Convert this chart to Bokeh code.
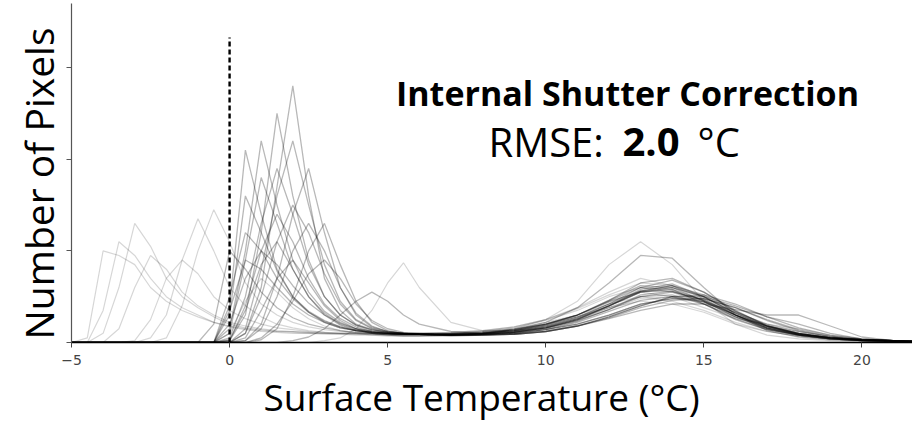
import math
from bokeh.plotting import figure
from bokeh.models import Range1d, FixedTicker, Label, Title
from bokeh.embed import file_html
from bokeh.resources import INLINE

# ---------------- data ----------------
X_GRID = [-5, -4.5, -4, -3.5, -3, -2.5, -2, -1.5, -1, -0.5, 0, 0.5, 1, 1.5, 2, 2.5, 3, 3.5, 4, 4.5,
          5, 5.5, 6, 7, 8, 9, 10, 11, 12, 13, 14, 15, 16, 17, 18, 19, 20, 21, 22]

# faint curves of the coldest images (pixel counts, arbitrary units, on X_GRID)
COLD_CURVES = [
    [0, 0, 0.35, 1.1, 0.95, 0.7, 0.5, 0.38, 0.3, 0.22, 0.18, 0.15, 0.13, 0.12, 0.12, 0.11, 0.1, 0.1, 0.1, 0.09,
     0.09, 0.09, 0.09, 0.1, 0.12, 0.15, 0.22, 0.3, 0.42, 0.5, 0.45, 0.35, 0.22, 0.12, 0.07, 0.04, 0.02, 0.01, 0.01],
    [0, 0, 0.1, 0.6, 1.3, 1.05, 0.7, 0.5, 0.38, 0.28, 0.2, 0.16, 0.14, 0.12, 0.11, 0.1, 0.1, 0.09, 0.09, 0.09,
     0.08, 0.08, 0.08, 0.09, 0.1, 0.13, 0.18, 0.28, 0.4, 0.55, 0.6, 0.5, 0.32, 0.18, 0.1, 0.05, 0.03, 0.02, 0.01],
    [0, 0.05, 1.0, 0.95, 0.85, 0.6, 0.45, 0.35, 0.28, 0.22, 0.17, 0.14, 0.12, 0.11, 0.1, 0.1, 0.09, 0.09, 0.08, 0.08,
     0.08, 0.08, 0.08, 0.09, 0.11, 0.14, 0.2, 0.28, 0.38, 0.45, 0.42, 0.33, 0.2, 0.12, 0.07, 0.04, 0.02, 0.01, 0.01],
    [0, 0, 0, 0.15, 0.6, 0.95, 0.8, 0.55, 0.4, 0.3, 0.22, 0.18, 0.15, 0.13, 0.12, 0.11, 0.1, 0.1, 0.1, 0.1,
     0.1, 0.1, 0.1, 0.11, 0.13, 0.17, 0.25, 0.38, 0.55, 0.7, 0.62, 0.45, 0.28, 0.16, 0.09, 0.05, 0.03, 0.02, 0.01],
    [0, 0, 0, 0, 0, 0.05, 0.3, 0.9, 1.35, 1.0, 0.6, 0.4, 0.28, 0.2, 0.16, 0.13, 0.11, 0.1, 0.09, 0.09,
     0.09, 0.09, 0.09, 0.1, 0.12, 0.16, 0.24, 0.35, 0.5, 0.6, 0.55, 0.42, 0.28, 0.18, 0.12, 0.07, 0.03, 0.02, 0.01],
    [0, 0, 0, 0, 0, 0, 0.05, 0.4, 1.0, 1.45, 1.1, 0.65, 0.42, 0.3, 0.22, 0.17, 0.14, 0.12, 0.11, 0.1,
     0.1, 0.1, 0.1, 0.11, 0.13, 0.17, 0.25, 0.37, 0.52, 0.65, 0.62, 0.48, 0.3, 0.17, 0.1, 0.05, 0.03, 0.02, 0.01],
    [0, 0, 0, 0, 0.02, 0.25, 0.7, 0.9, 0.75, 0.5, 0.35, 0.26, 0.2, 0.16, 0.14, 0.12, 0.11, 0.1, 0.1, 0.1,
     0.09, 0.09, 0.09, 0.1, 0.12, 0.15, 0.2, 0.3, 0.45, 0.55, 0.5, 0.38, 0.26, 0.2, 0.15, 0.08, 0.04, 0.02, 0.01],
    [0, 0, 0, 0, 0, 0, 0, 0, 0, 0, 0, 0, 0, 0, 0, 0, 0.02, 0.05, 0.15, 0.35,
     0.65, 0.87, 0.6, 0.22, 0.13, 0.13, 0.16, 0.24, 0.36, 0.48, 0.5, 0.42, 0.28, 0.15, 0.08, 0.04, 0.02, 0.01, 0.01],
    [0, 0, 0, 0, 0, 0, 0, 0, 0, 0, 0.1, 0.45, 0.7, 0.55, 0.38, 0.26, 0.18, 0.13, 0.1, 0.08,
     0.07, 0.07, 0.07, 0.08, 0.1, 0.15, 0.25, 0.45, 0.85, 1.1, 0.85, 0.45, 0.2, 0.08, 0.04, 0.02, 0.01, 0.01, 0],
]

# denser curves of the images near freezing
MAIN_CURVES = [
    [0, 0, 0, 0, 0, 0, 0, 0, 0, 0, 0.4, 2.1, 1.4, 0.8, 0.5, 0.33, 0.22, 0.16, 0.13, 0.11,
     0.1, 0.09, 0.09, 0.09, 0.1, 0.13, 0.2, 0.3, 0.45, 0.6, 0.58, 0.42, 0.25, 0.14, 0.08, 0.04, 0.02, 0.01, 0.01],
    [0, 0, 0, 0, 0, 0, 0, 0, 0, 0, 0.1, 0.9, 1.8, 1.3, 0.8, 0.5, 0.32, 0.2, 0.14, 0.11,
     0.1, 0.09, 0.09, 0.08, 0.09, 0.11, 0.16, 0.25, 0.4, 0.55, 0.6, 0.5, 0.32, 0.17, 0.09, 0.05, 0.03, 0.02, 0.01],
    [0, 0, 0, 0, 0, 0, 0, 0, 0, 0, 0.02, 0.3, 1.2, 2.5, 1.6, 0.9, 0.5, 0.3, 0.19, 0.14,
     0.11, 0.1, 0.09, 0.08, 0.09, 0.11, 0.15, 0.23, 0.36, 0.52, 0.56, 0.46, 0.3, 0.16, 0.09, 0.05, 0.03, 0.02, 0.01],
    [0, 0, 0, 0, 0, 0, 0, 0, 0, 0, 0, 0.1, 0.6, 1.7, 2.8, 1.6, 0.7, 0.35, 0.2, 0.14,
     0.11, 0.1, 0.09, 0.08, 0.09, 0.11, 0.16, 0.25, 0.38, 0.5, 0.52, 0.42, 0.26, 0.14, 0.08, 0.04, 0.02, 0.01, 0.01],
    [0, 0, 0, 0, 0, 0, 0, 0, 0, 0, 0, 0.15, 0.8, 1.6, 2.2, 1.5, 0.85, 0.45, 0.25, 0.16,
     0.12, 0.1, 0.09, 0.08, 0.09, 0.1, 0.14, 0.22, 0.34, 0.46, 0.5, 0.44, 0.3, 0.18, 0.1, 0.05, 0.03, 0.02, 0.01],
    [0, 0, 0, 0, 0, 0, 0, 0, 0, 0, 0.5, 1.2, 1.0, 0.7, 0.48, 0.33, 0.23, 0.17, 0.13, 0.11,
     0.1, 0.09, 0.09, 0.09, 0.11, 0.14, 0.2, 0.3, 0.46, 0.62, 0.6, 0.45, 0.28, 0.15, 0.08, 0.04, 0.02, 0.01, 0.01],
    [0, 0, 0, 0, 0, 0, 0, 0, 0, 0, 0.2, 0.7, 1.0, 0.85, 0.62, 0.43, 0.3, 0.21, 0.15, 0.12,
     0.1, 0.09, 0.09, 0.09, 0.1, 0.13, 0.19, 0.28, 0.42, 0.56, 0.62, 0.52, 0.34, 0.19, 0.1, 0.05, 0.03, 0.02, 0.01],
    [0, 0, 0, 0, 0, 0, 0, 0, 0, 0, 0, 0.02, 0.15, 0.5, 1.0, 1.3, 1.0, 0.6, 0.32, 0.18,
     0.12, 0.1, 0.09, 0.08, 0.08, 0.1, 0.14, 0.2, 0.3, 0.42, 0.48, 0.45, 0.33, 0.2, 0.12, 0.06, 0.03, 0.02, 0.01],
    [0, 0, 0, 0, 0, 0, 0, 0, 0, 0.2, 1.0, 0.8, 0.55, 0.38, 0.27, 0.2, 0.16, 0.13, 0.11, 0.1,
     0.09, 0.09, 0.09, 0.09, 0.1, 0.13, 0.19, 0.3, 0.46, 0.65, 0.7, 0.55, 0.35, 0.18, 0.09, 0.05, 0.02, 0.01, 0.01],
    [0, 0, 0, 0, 0, 0, 0, 0, 0, 0, 0.05, 0.5, 1.3, 1.9, 1.4, 0.85, 0.5, 0.3, 0.19, 0.13,
     0.11, 0.1, 0.09, 0.09, 0.1, 0.12, 0.17, 0.26, 0.4, 0.56, 0.62, 0.5, 0.32, 0.18, 0.1, 0.05, 0.03, 0.02, 0.01],
    [0, 0, 0, 0, 0, 0, 0, 0, 0, 0, 0, 0, 0.05, 0.2, 0.45, 0.75, 0.9, 0.7, 0.42, 0.24,
     0.15, 0.11, 0.1, 0.08, 0.08, 0.09, 0.12, 0.18, 0.28, 0.4, 0.5, 0.5, 0.4, 0.28, 0.2, 0.1, 0.04, 0.02, 0.01],
    [0, 0, 0, 0, 0, 0, 0, 0, 0, 0, 0.15, 1.0, 2.2, 1.5, 0.9, 0.55, 0.34, 0.22, 0.15, 0.12,
     0.1, 0.09, 0.09, 0.08, 0.09, 0.11, 0.16, 0.24, 0.36, 0.5, 0.55, 0.47, 0.3, 0.16, 0.09, 0.05, 0.03, 0.02, 0.01],
    [0, 0, 0, 0, 0, 0, 0, 0, 0, 0, 0, 0.1, 0.5, 1.1, 1.5, 1.2, 0.75, 0.42, 0.24, 0.15,
     0.11, 0.1, 0.09, 0.08, 0.09, 0.1, 0.14, 0.2, 0.3, 0.42, 0.48, 0.48, 0.38, 0.25, 0.14, 0.07, 0.03, 0.02, 0.01],
    [0, 0, 0, 0, 0, 0, 0, 0, 0, 0, 0.3, 1.6, 1.2, 0.78, 0.5, 0.34, 0.24, 0.17, 0.13, 0.11,
     0.1, 0.09, 0.09, 0.09, 0.1, 0.12, 0.18, 0.27, 0.42, 0.6, 0.68, 0.55, 0.34, 0.18, 0.09, 0.05, 0.02, 0.01, 0.01],
    [0, 0, 0, 0, 0, 0, 0, 0, 0, 0, 0, 0.02, 0.2, 0.7, 1.4, 1.9, 1.2, 0.6, 0.3, 0.17,
     0.12, 0.1, 0.09, 0.08, 0.08, 0.09, 0.12, 0.18, 0.28, 0.4, 0.5, 0.52, 0.42, 0.28, 0.16, 0.08, 0.04, 0.02, 0.01],
    [0, 0, 0, 0, 0, 0, 0, 0, 0, 0, 0, 0, 0.03, 0.15, 0.5, 1.0, 1.3, 0.85, 0.45, 0.22,
     0.13, 0.1, 0.09, 0.08, 0.08, 0.09, 0.12, 0.18, 0.27, 0.38, 0.46, 0.48, 0.38, 0.24, 0.13, 0.06, 0.03, 0.02, 0.01],
    [0, 0, 0, 0, 0, 0, 0, 0, 0, 0, 0.02, 0.4, 1.0, 1.4, 1.1, 0.7, 0.42, 0.26, 0.17, 0.12,
     0.1, 0.09, 0.09, 0.08, 0.09, 0.11, 0.16, 0.25, 0.4, 0.58, 0.64, 0.5, 0.3, 0.15, 0.08, 0.04, 0.02, 0.01, 0.01],
    [0, 0, 0, 0, 0, 0, 0, 0, 0, 0, 0.35, 0.9, 0.8, 0.6, 0.42, 0.3, 0.22, 0.16, 0.13, 0.11,
     0.1, 0.1, 0.1, 0.1, 0.11, 0.14, 0.2, 0.3, 0.44, 0.56, 0.56, 0.44, 0.3, 0.18, 0.1, 0.05, 0.03, 0.02, 0.01],
    [0, 0, 0, 0, 0, 0, 0, 0, 0, 0, 0, 0, 0, 0, 0.02, 0.06, 0.15, 0.3, 0.45, 0.55,
     0.45, 0.3, 0.2, 0.12, 0.1, 0.12, 0.17, 0.26, 0.4, 0.55, 0.58, 0.46, 0.3, 0.16, 0.08, 0.04, 0.02, 0.01, 0.01],
    [0, 0, 0, 0, 0, 0, 0, 0, 0, 0, 0, 0.05, 0.35, 0.7, 0.9, 0.65, 0.4, 0.24, 0.15, 0.1,
     0.08, 0.07, 0.07, 0.08, 0.1, 0.14, 0.22, 0.38, 0.65, 0.95, 0.92, 0.6, 0.3, 0.13, 0.06, 0.03, 0.02, 0.01, 0],
    [0, 0, 0, 0, 0, 0, 0, 0, 0, 0, 0.03, 0.35, 0.85, 1.1, 0.8, 0.5, 0.3, 0.19, 0.13, 0.1,
     0.09, 0.08, 0.08, 0.07, 0.08, 0.09, 0.12, 0.18, 0.26, 0.35, 0.42, 0.42, 0.36, 0.3, 0.3, 0.18, 0.06, 0.02, 0.01],
]

X_TICKS = [-5, 0, 5, 10, 15, 20]
X_TICK_LABELS = {-5: "\u22125", 0: "0", 5: "5", 10: "10", 15: "15", 20: "20"}
Y_TICKS = [0, 1, 2, 3]
Y_TICK_LABELS = {0: "", 1: "", 2: "", 3: ""}
FREEZING_X = [0, 0]
FREEZING_Y = [0, 3.33]

TITLE = "Internal Shutter Correction"
RMSE_PREFIX = "RMSE:"
RMSE_VALUE = "2.0"
RMSE_UNIT = "\u00b0C"
X_LABEL = "Surface Temperature (\u00b0C)"
Y_LABEL = "Number of Pixels"

# ---------------- figure ----------------
W, H = 912, 423
FL, FB = 71, 343   # frame left / bottom in page pixels (label screen units are frame-relative)
p = figure(width=W, height=H, output_backend="svg", toolbar_location=None,
           x_range=Range1d(-5, 21.6), y_range=Range1d(0, 3.7),
           min_border_left=FL, min_border_right=0, min_border_top=3, min_border_bottom=0)
p.outline_line_color = None
p.grid.visible = False
p.background_fill_color = "white"
p.border_fill_color = "white"

p.multi_line([X_GRID] * len(COLD_CURVES), COLD_CURVES,
             line_color="black", line_alpha=0.16, line_width=1.2)
p.multi_line([X_GRID] * len(MAIN_CURVES), MAIN_CURVES,
             line_color="black", line_alpha=0.28, line_width=1.3)

p.line(FREEZING_X, FREEZING_Y, line_color="black", line_width=2.4, line_dash="5 3")

xa = p.xaxis[0]
xa.ticker = FixedTicker(ticks=X_TICKS)
xa.major_label_overrides = X_TICK_LABELS
xa.major_label_text_font = "DejaVu Sans"
xa.major_label_text_font_size = "14px"
xa.major_label_text_color = "#444444"
xa.major_label_standoff = 7
xa.axis_line_color = "black"
xa.axis_line_width = 1.6
xa.major_tick_line_color = "#444444"
xa.major_tick_out = 5
xa.major_tick_in = 0
xa.minor_tick_line_color = None

# x-axis title placed below the axis, offset from the frame's left edge
p.add_layout(Title(text=X_LABEL, align="left", offset=192, standoff=3,
                   text_font="Open Sans", text_font_size="37px", text_font_style="normal",
                   text_color="black"), "below")

ya = p.yaxis[0]
ya.ticker = FixedTicker(ticks=Y_TICKS)
ya.major_label_overrides = Y_TICK_LABELS
ya.major_label_standoff = 9
ya.axis_line_color = "#555555"
ya.axis_line_width = 1.2
ya.major_tick_line_color = "#555555"
ya.major_tick_out = 5
ya.major_tick_in = 0
ya.minor_tick_line_color = None

# y-axis title on the left, starting just above the x axis
p.add_layout(Title(text=Y_LABEL, align="left", offset=3, standoff=4,
                   text_font="Open Sans", text_font_size="39px", text_font_style="normal",
                   text_color="black"), "left")


def add_text(px, py, text, size, bold=False, align="left"):
    p.add_layout(Label(x=px - FL, y=FB - py, x_units="screen", y_units="screen", text=text,
                       text_font="Open Sans", text_font_size=size,
                       text_font_style="bold" if bold else "normal", text_color="black",
                       text_align=align, text_baseline="alphabetic"))


add_text(627, 93, TITLE, "34px", bold=True, align="center")
add_text(488, 142, RMSE_PREFIX, "40px")
add_text(622, 142, RMSE_VALUE, "40px", bold=True)
add_text(697, 142, RMSE_UNIT, "40px")

open("out.html", "w").write(file_html(p, INLINE))
